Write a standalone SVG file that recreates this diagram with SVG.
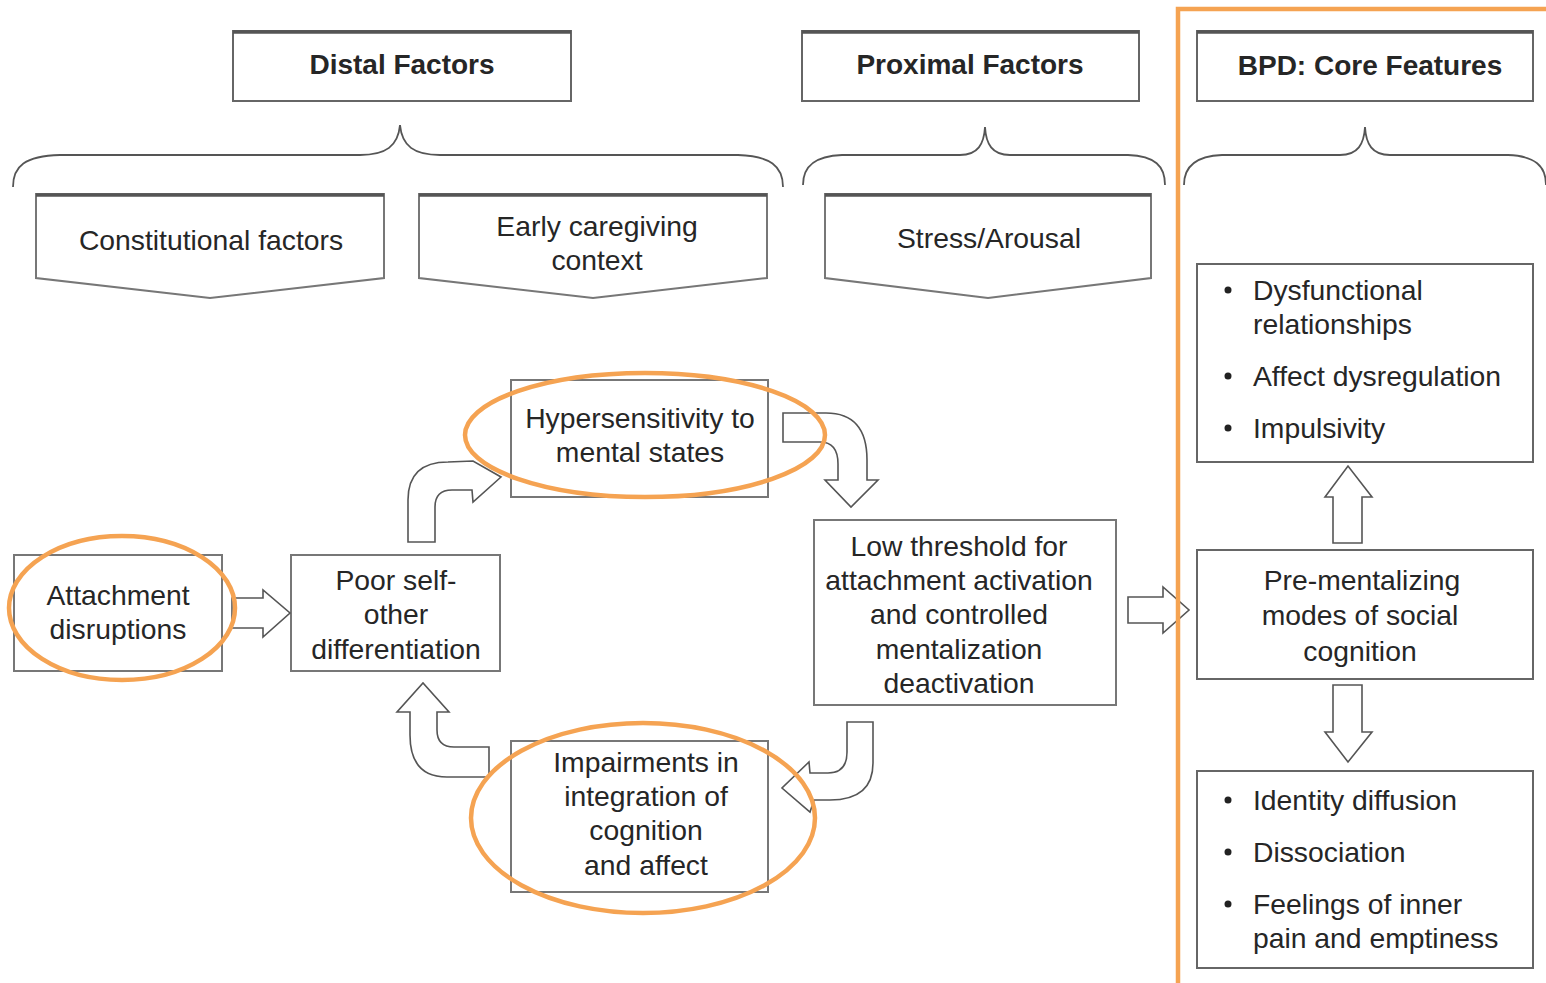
<svg xmlns="http://www.w3.org/2000/svg" width="1546" height="983" viewBox="0 0 1546 983">
<style>
text{font-family:"Liberation Sans",Arial,sans-serif;font-size:28.3px;fill:#262626;text-anchor:middle}
.hd{font-weight:bold;font-size:28px}
.lt{text-anchor:start}
.box{fill:#fff;stroke:#777;stroke-width:2}
.hbox{fill:#fff;stroke:#666;stroke-width:2}
.top{stroke:#555;stroke-width:3.5;fill:none}
.brace{fill:none;stroke:#555;stroke-width:1.8}
.arr{fill:#fff;stroke:#555;stroke-width:1.6;stroke-linejoin:miter}
.hl{fill:none;stroke:#F5A352;stroke-width:4.5}
</style>
<rect width="1546" height="983" fill="#fff"/>

<g id="distal-header"><rect class="hbox" x="233" y="31" width="338" height="70"/><line class="top" x1="233" y1="32" x2="571" y2="32"/><text class="hd" x="402" y="74">Distal Factors</text></g>
<g id="proximal-header"><rect class="hbox" x="802" y="31" width="337" height="70"/><line class="top" x1="802" y1="32" x2="1139" y2="32"/><text class="hd" x="970" y="74">Proximal Factors</text></g>
<g id="bpd-header"><rect class="hbox" x="1197" y="31" width="336" height="70"/><line class="top" x1="1197" y1="32" x2="1533" y2="32"/><text class="hd" x="1370" y="75">BPD: Core Features</text></g>

<g id="braces">
<path class="brace" d="M13,187 C13,166 25,156 60,155 L360,155 C386,155 398,146 400,125 C402,146 414,155 440,155 L738,155 C770,156 783,166 783,187"/>
<path class="brace" d="M803,185 C803,166 815,156 842,155 L960,155 C978,155 984,144 985,127 C986,144 992,155 1010,155 L1128,155 C1155,156 1165,166 1165,185"/>
<path class="brace" d="M1184,185 C1184,166 1196,156 1222,155 L1340,155 C1358,155 1364,144 1365,127 C1366,144 1372,155 1390,155 L1508,155 C1535,156 1546,166 1546,185"/>
</g>

<g id="constitutional"><path class="box" d="M36,194 L384,194 L384,278 L210,298 L36,278 Z"/><line class="top" x1="36" y1="195" x2="384" y2="195"/><text x="211" y="250">Constitutional factors</text></g>
<g id="caregiving"><path class="box" d="M419,194 L767,194 L767,278 L593,298 L419,278 Z"/><line class="top" x1="419" y1="195" x2="767" y2="195"/><text x="597" y="236">Early caregiving</text><text x="597" y="270">context</text></g>
<g id="stress"><path class="box" d="M825,194 L1151,194 L1151,278 L988,298 L825,278 Z"/><line class="top" x1="825" y1="195" x2="1151" y2="195"/><text x="989" y="248">Stress/Arousal</text></g>

<g id="attachment"><rect class="box" x="14" y="555" width="208" height="116"/><text x="118" y="605">Attachment</text><text x="118" y="639">disruptions</text></g>
<g id="poor-self"><rect class="box" x="291" y="555" width="209" height="116"/><text x="396" y="590">Poor self-</text><text x="396" y="624">other</text><text x="396" y="659">differentiation</text></g>
<g id="hypersensitivity"><rect class="box" x="511" y="380" width="257" height="117"/><text x="640" y="428">Hypersensitivity to</text><text x="640" y="462">mental states</text></g>
<g id="low-threshold"><rect class="box" x="814" y="520" width="302" height="185"/><text x="959" y="556">Low threshold for</text><text x="959" y="590">attachment activation</text><text x="959" y="624">and controlled</text><text x="959" y="659">mentalization</text><text x="959" y="693">deactivation</text></g>
<g id="impairments"><rect class="box" x="511" y="741" width="257" height="151"/><text x="646" y="772">Impairments in</text><text x="646" y="806">integration of</text><text x="646" y="840">cognition</text><text x="646" y="875">and affect</text></g>

<g id="core-top"><rect class="hbox" x="1197" y="264" width="336" height="198"/>
<circle cx="1228" cy="290" r="3.5" fill="#222"/><text class="lt" x="1253" y="300">Dysfunctional</text><text class="lt" x="1253" y="334">relationships</text>
<circle cx="1228" cy="376" r="3.5" fill="#222"/><text class="lt" x="1253" y="386">Affect dysregulation</text>
<circle cx="1228" cy="428" r="3.5" fill="#222"/><text class="lt" x="1253" y="438">Impulsivity</text></g>
<g id="pre-mentalizing"><rect class="hbox" x="1197" y="550" width="336" height="129"/><text x="1362" y="590">Pre-mentalizing</text><text x="1360" y="625">modes of social</text><text x="1360" y="661">cognition</text></g>
<g id="core-bottom"><rect class="hbox" x="1197" y="771" width="336" height="197"/>
<circle cx="1228" cy="800" r="3.5" fill="#222"/><text class="lt" x="1253" y="810">Identity diffusion</text>
<circle cx="1228" cy="852" r="3.5" fill="#222"/><text class="lt" x="1253" y="862">Dissociation</text>
<circle cx="1228" cy="904" r="3.5" fill="#222"/><text class="lt" x="1253" y="914">Feelings of inner</text><text class="lt" x="1253" y="948">pain and emptiness</text></g>

<g id="connectors">
<path class="arr" d="M232,598 L263,598 L263,590 L290,613 L263,637 L263,628 L232,628 Z"/>
<path class="arr" d="M408,542 L408,500 Q408,462 448,462 L473,461 L501,477 L473,502 L472,490 L452,490 Q435,490 435,507 L435,542 Z"/>
<path class="arr" d="M783,413 L826,413 Q867,413 867,460 L867,480 L878,480 L851,507 L825,480 L838,480 L838,464 Q838,442 820,442 L783,442 Z"/>
<path class="arr" d="M847,722 L873,722 L873,763 Q873,800 830,800 L814,800 L810,812 L782,788 L809,762 L810,773 L828,773 Q847,773 847,752 Z"/>
<path class="arr" d="M489,747 L489,777 L447,777 Q410,777 410,735 L410,712 L397,712 L423,683 L449,712 L437,712 L437,730 Q437,747 454,747 Z"/>
<path class="arr" d="M1128,597 L1163,597 L1163,587 L1189,610 L1163,633 L1163,623 L1128,623 Z"/>
<path class="arr" d="M1333,543 L1333,497 L1325,497 L1348,466 L1372,497 L1362,497 L1362,543 Z"/>
<path class="arr" d="M1333,685 L1333,732 L1325,732 L1348,762 L1372,732 L1362,732 L1362,685 Z"/>
</g>

<g id="highlights">
<ellipse class="hl" cx="122" cy="608" rx="113" ry="72"/>
<ellipse class="hl" cx="645" cy="435" rx="180" ry="62"/>
<ellipse class="hl" cx="643" cy="818" rx="172" ry="95"/>
<path class="hl" d="M1178,983 L1178,9 L1550,9" stroke-width="5"/>
</g>
</svg>
